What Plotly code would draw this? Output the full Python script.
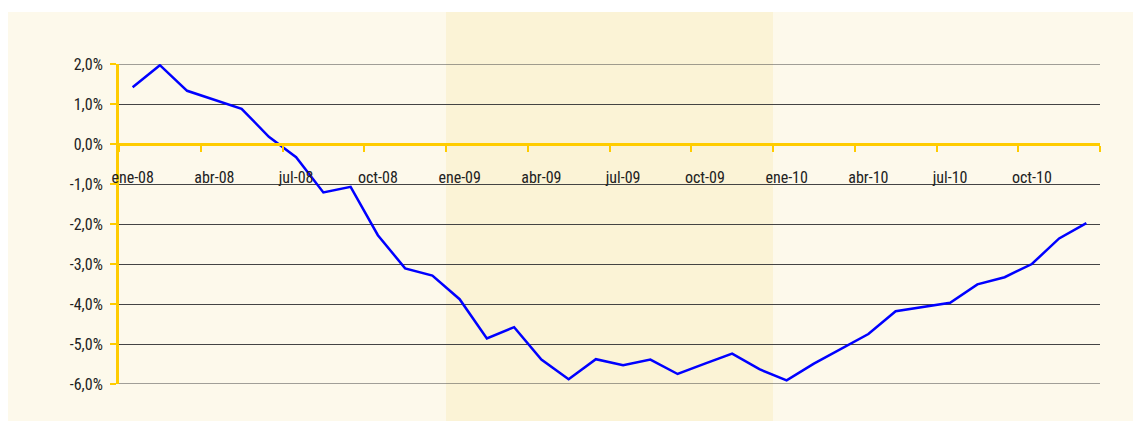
import plotly.graph_objects as go

months = ["ene", "feb", "mar", "abr", "may", "jun", "jul", "ago", "sep", "oct", "nov", "dic"]
years = ["08", "09", "10"]
categories = [f"{m}-{y}" for y in years for m in months]

values = [1.42, 1.97, 1.33, 1.10, 0.88, 0.18, -0.33, -1.21, -1.07, -2.28,
          -3.11, -3.29, -3.88, -4.86, -4.58, -5.39, -5.88, -5.38, -5.53, -5.39,
          -5.75, -5.49, -5.24, -5.63, -5.91, -5.49, -5.11, -4.75, -4.18, -4.07,
          -3.97, -3.51, -3.33, -3.00, -2.36, -1.98]

ytick_vals = [2, 1, 0, -1, -2, -3, -4, -5, -6]
ytick_text = ["2,0%", "1,0%", "0,0%", "-1,0%", "-2,0%", "-3,0%", "-4,0%", "-5,0%", "-6,0%"]

shade_start, shade_end = "ene-09", "dic-09"

FONT = "Roboto Condensed, Liberation Sans Narrow, sans-serif"
YEL = "#FFCC00"
GRID = "#444444"

fig = go.Figure()
fig.add_trace(go.Scatter(x=categories, y=values, mode="lines",
                         line=dict(color="#0000FF", width=2.5), showlegend=False))

i0 = categories.index(shade_start) - 0.5
i1 = categories.index(shade_end) + 0.5
ymax, ymin = max(ytick_vals), min(ytick_vals)

shapes = [
    dict(type="rect", xref="paper", yref="paper", x0=-0.13, x1=1.06, y0=-0.3, y1=1.1625,
         fillcolor="#FDF9EB", line_width=0, layer="below"),
    dict(type="rect", xref="x", yref="paper", x0=i0, x1=i1, y0=-0.3, y1=1.1625,
         fillcolor="#FBF3D6", line_width=0, layer="below"),
]
# edge gridlines (plotly omits grid lines at the range ends)
for yv in (ymax, ymin):
    shapes.append(dict(type="line", xref="paper", yref="y", x0=0, x1=1, y0=yv, y1=yv,
                       line=dict(color=GRID, width=1), layer="below"))

fig.update_layout(
    width=1133, height=413,
    margin=dict(l=111, r=41, t=56, b=37),
    paper_bgcolor="white", plot_bgcolor="rgba(0,0,0,0)",
    font=dict(family=FONT, size=16, color="#222222"),
    shapes=shapes,
    xaxis=dict(type="category", categoryorder="array", categoryarray=categories,
               range=[-0.5, len(categories) - 0.5],
               anchor="free", position=0.75,
               tickmode="linear", tick0=0, dtick=3, tickson="boundaries", tickangle=0,
               ticks="outside", ticklen=6, tickwidth=2, tickcolor=YEL,
               showline=True, linecolor=YEL, linewidth=3,
               showgrid=False, zeroline=False, ticklabelstandoff=18,
               tickfont=dict(family=FONT, size=16, color="#222222")),
    yaxis=dict(range=[ymin, ymax], tickmode="array", tickvals=ytick_vals, ticktext=ytick_text,
               ticks="outside", ticklen=6, tickwidth=2, tickcolor=YEL,
               showline=True, linecolor=YEL, linewidth=3, ticklabelstandoff=4,
               showgrid=True, gridcolor=GRID, gridwidth=1, zeroline=False,
               tickfont=dict(family=FONT, size=16, color="#222222")),
    annotations=[
        dict(text="Gráfico 3.1", xref="paper", yref="paper", x=(-1 - 119) / 981,
             y=-(345 - 384) / 320, xanchor="center", yanchor="top", textangle=-90,
             showarrow=False, font=dict(family=FONT, size=14, color="#FFCC00")),
    ],
)

fig.write_html("out.html")
